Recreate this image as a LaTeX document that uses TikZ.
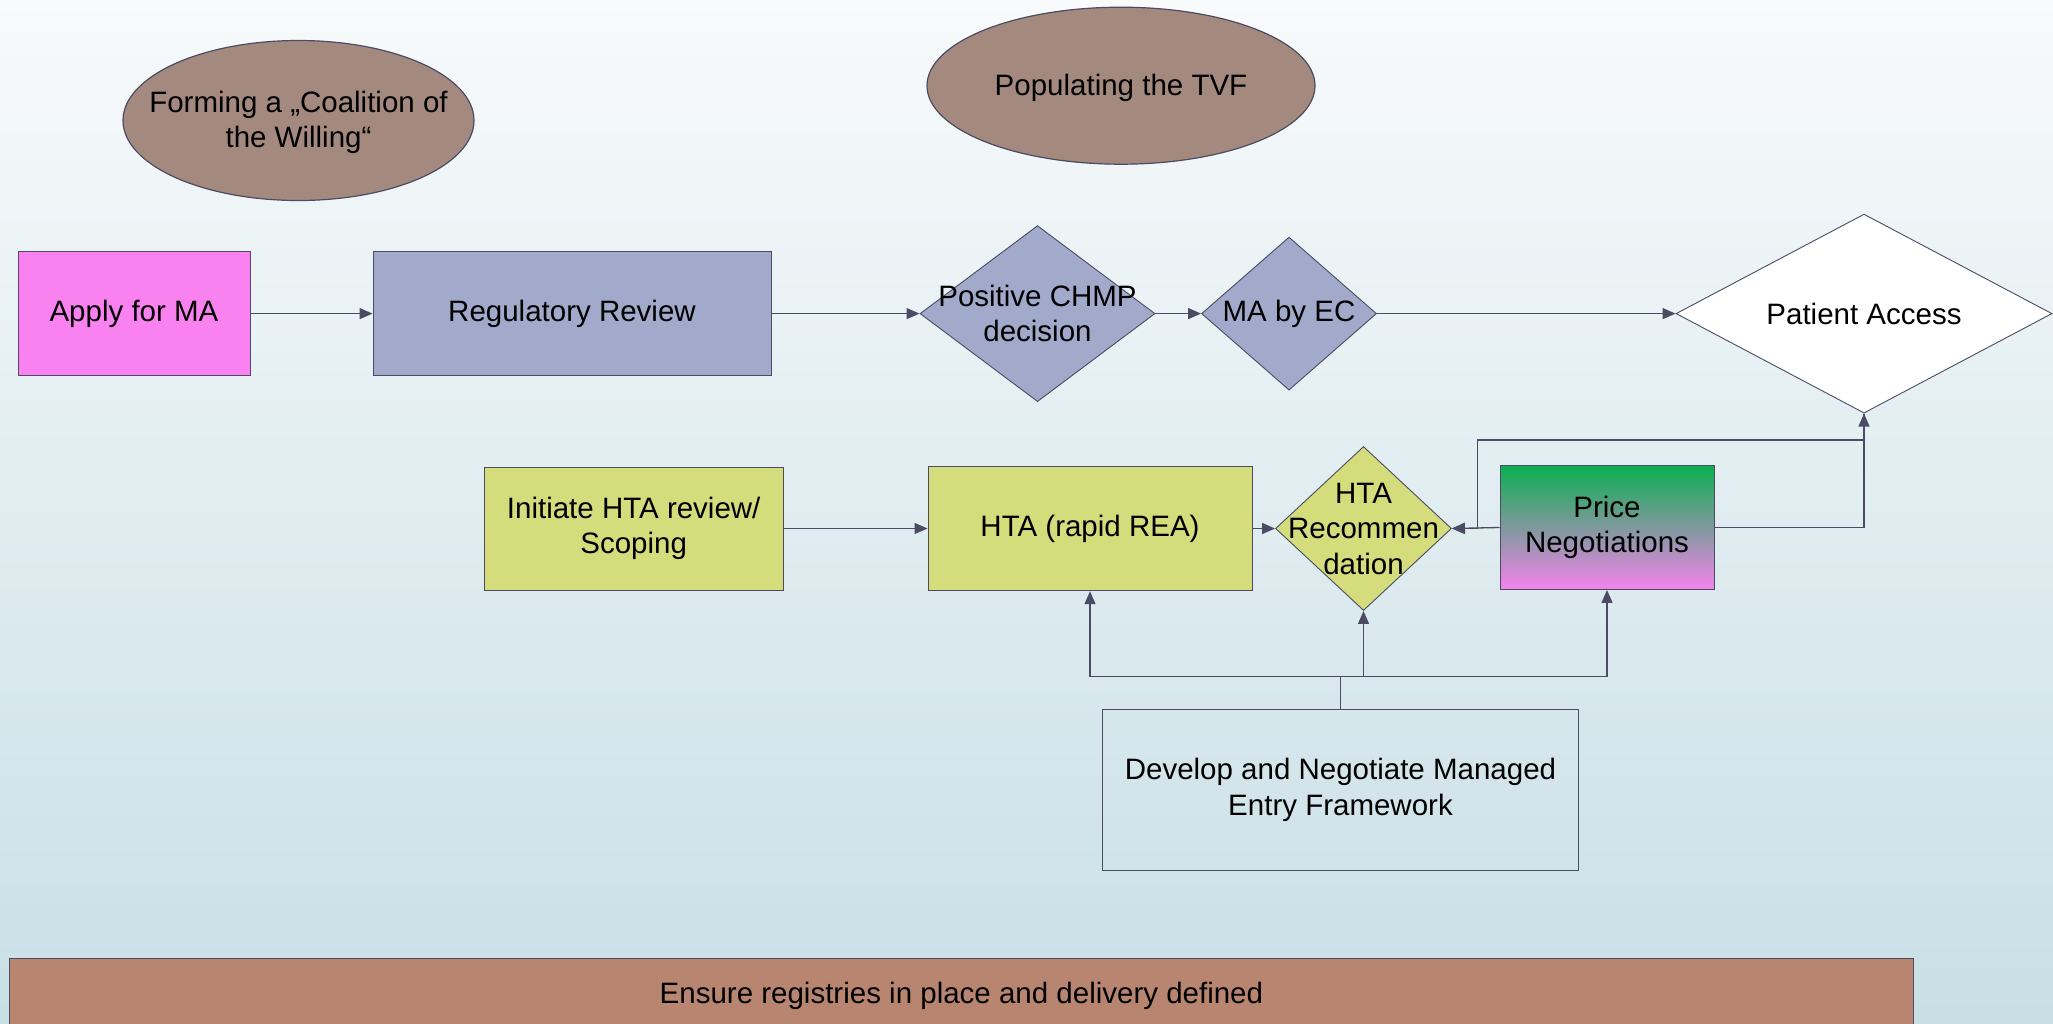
\documentclass[tikz,border=0pt]{standalone}
\usepackage{fontspec}
\setmainfont{Liberation Sans}
\usetikzlibrary{shapes.geometric,arrows.meta}
\definecolor{bgtop}{HTML}{F8FAFB}
\definecolor{bgbot}{HTML}{C8DFE6}
\definecolor{linec}{HTML}{4B4B63}
\definecolor{ellc}{HTML}{A4897F}
\definecolor{magc}{HTML}{FA82F0}
\definecolor{bluec}{HTML}{A2AACB}
\definecolor{yelc}{HTML}{D4DC7C}
\definecolor{greenc}{HTML}{0BAF50}
\definecolor{pinkc}{HTML}{F483EB}
\definecolor{bannerc}{HTML}{B88571}
\tikzset{
  every node/.style={font=\fontsize{29.5}{35.5}\selectfont, text=black},
  box/.style={rectangle, draw=linec, line width=0.9pt, inner sep=0pt, align=center},
  diam/.style={diamond, draw=linec, line width=0.9pt, inner sep=0pt},
  oval/.style={ellipse, draw=linec, line width=1.2pt, fill=ellc, inner sep=0pt},
  conn/.style={draw=linec, line width=1.3pt, -{Triangle[length=13pt,width=11pt]}},
  plain/.style={draw=linec, line width=1.3pt}
}
\begin{document}
\begin{tikzpicture}[x=1pt, y=-1pt]
\useasboundingbox (0,0) rectangle (2053,1023);
\clip (0,0) rectangle (2053,1023);
\shade[top color=bgtop, bottom color=bgbot] (0,0) rectangle (2053,1023);

% ellipses
\node[oval, minimum width=351, minimum height=160,
  label={[align=center, yshift=-2pt]center:Forming a „Coalition of\\the Willing“}] (coal) at (298.5,120.5) {};
\node[oval, minimum width=388, minimum height=157,
  label={[align=center, yshift=-2pt]center:Populating the TVF}] (tvf) at (1121,85.7) {};

% top row
\node[box, fill=magc, minimum width=232, minimum height=124.4] (apply) at (134,313.6) {Apply for MA};
\node[box, fill=bluec, minimum width=398, minimum height=124.4] (reg) at (572,313.6) {Regulatory Review};
\node[diam, fill=bluec, minimum width=235, minimum height=176,
  label={[align=center]center:Positive CHMP\\decision}] (chmp) at (1037.5,313.6) {};
\node[diam, fill=bluec, minimum width=175, minimum height=153,
  label={[align=center]center:MA by EC}] (ec) at (1289,313.6) {};
\node[diam, fill=white, minimum width=376, minimum height=199,
  label={[align=center]center:Patient Access}] (pat) at (1864,313.6) {};

% second row
\node[box, fill=yelc, minimum width=298.6, minimum height=123] (init) at (633.7,528.5) {Initiate HTA review/\\Scoping};
\node[box, fill=yelc, minimum width=324, minimum height=124.5] (hta) at (1090,528.5) {HTA (rapid REA)};
\node[diam, fill=yelc, minimum width=176, minimum height=164,
  label={[align=center]center:HTA\\Recommen\\dation}] (rec) at (1363.5,528.5) {};
\node[box, top color=greenc, bottom color=pinkc, minimum width=214, minimum height=124] (price) at (1607,527.5) {Price\\Negotiations};

% develop
\node[box, minimum width=476, minimum height=161] (dev) at (1340.5,790) {Develop and Negotiate Managed\\Entry Framework};

% banner
\node[box, fill=bannerc, minimum width=1904, minimum height=80, anchor=north west,
  label={[anchor=center, yshift=3pt]center:Ensure registries in place and delivery defined}] (ban) at (9,958) {};

% connectors
\coordinate (j) at (1340.5,676.7);
\coordinate (lp) at (1477.6,440);
\draw[conn] (apply.east) -- (reg.west);
\draw[conn] (reg.east) -- (chmp.west);
\draw[conn] (chmp.east) -- (ec.west);
\draw[conn] (ec.east) -- (pat.west);
\draw[conn] (init.east) -- (hta.west);
\draw[conn] (hta.east) -- (rec.west);
\draw[conn] (price.west) -- (rec.east);
\draw[conn] (price.east) -| (pat.south);
\draw[conn] (pat.south) |- (lp) |- (rec.east);
\draw[plain] (dev.north) -- (j);
\draw[conn] (j) -| (hta.south);
\draw[conn] (j) -| (rec.south);
\draw[conn] (j) -| (price.south);
\end{tikzpicture}
\end{document}
